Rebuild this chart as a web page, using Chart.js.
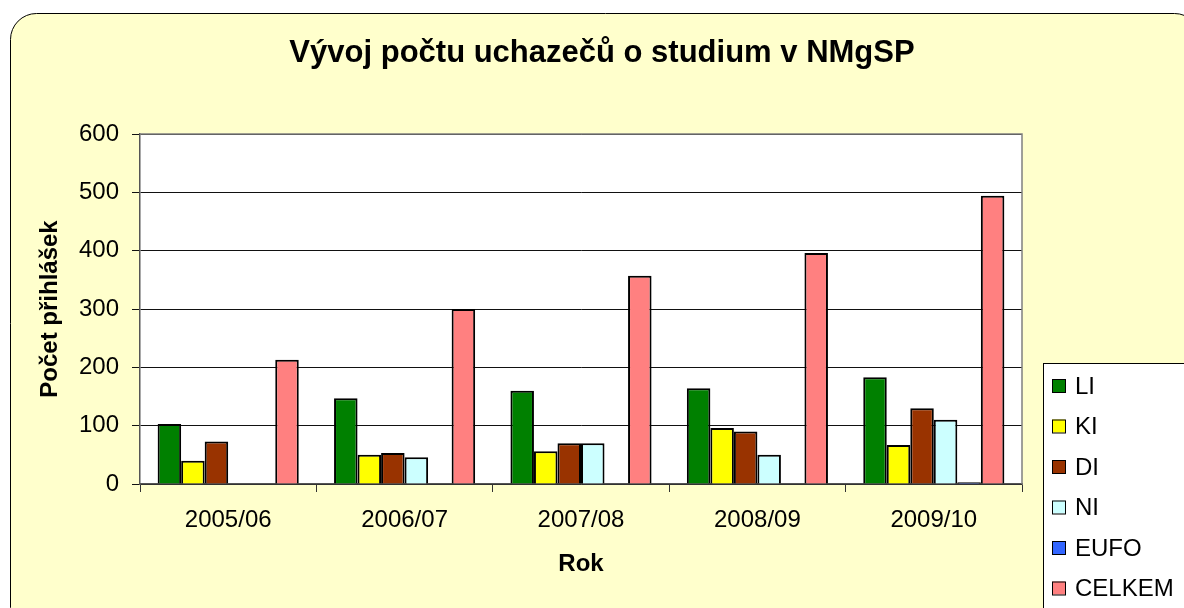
<!DOCTYPE html>
<html>
<head>
<meta charset="utf-8">
<script src="https://cdn.jsdelivr.net/npm/chart.js@4"></script>
<style>
  html, body { margin: 0; padding: 0; background: #fff; }
  #wrap { width: 1184px; height: 608px; }
</style>
</head>
<body>
<div id="wrap"><canvas id="chart" width="1184" height="608"></canvas></div>
<script>
const roky = ['2005/06', '2006/07', '2007/08', '2008/09', '2009/10'];
const LI = [103, 147, 160, 164, 183];
const KI = [40, 50, 56, 96, 67];
const DI = [73, 53, 70, 90, 130];
const NI = [0, 46, 70, 50, 110];
const EUFO = [0, 0, 0, 0, 3];
const CELKEM = [213, 300, 357, 396, 494];
const nadpis = 'Vývoj počtu uchazečů o studium v NMgSP';
const pismo = '"Liberation Sans", Arial, sans-serif';

// pozadí, rámeček, nadpis a legenda
const ramecek = {
  id: 'ramecek',
  beforeDraw(chart) {
    const c = chart.ctx;
    c.save();
    c.fillStyle = '#fff';
    c.fillRect(0, 0, chart.width, chart.height);
    c.beginPath();
    c.roundRect(10.5, 13.5, 1190, 620, 26);
    c.fillStyle = '#FFFFCC';
    c.fill();
    c.strokeStyle = '#000';
    c.lineWidth = 1;
    c.stroke();
    const a = chart.chartArea;
    c.fillStyle = '#fff';
    c.fillRect(a.left, a.top, a.right - a.left, a.bottom - a.top);
    c.restore();
  },
  afterDraw(chart) {
    const c = chart.ctx;
    const a = chart.chartArea;
    c.save();
    c.strokeStyle = '#808080';
    c.lineWidth = 1.5;
    c.beginPath();
    c.moveTo(a.left, a.top);
    c.lineTo(a.right, a.top);
    c.lineTo(a.right, a.bottom);
    c.stroke();

    c.fillStyle = '#000';
    c.font = 'bold 31px ' + pismo;
    c.textAlign = 'center';
    c.textBaseline = 'middle';
    c.fillText(nadpis, 602, 53);

    // legenda
    c.fillStyle = '#fff';
    c.fillRect(1043, 363, 160, 260);
    c.strokeStyle = '#000';
    c.lineWidth = 1;
    c.strokeRect(1043.5, 363.5, 160, 260);
    c.font = '24px ' + pismo;
    c.textAlign = 'left';
    chart.data.datasets.forEach((ds, i) => {
      const y = 386 + i * 40.5;
      c.fillStyle = ds.backgroundColor;
      c.fillRect(1052, y - 7, 13, 13);
      c.strokeRect(1052.5, y - 6.5, 13, 13);
      c.fillStyle = '#000';
      c.fillText(ds.label, 1075, y + 1);
    });
    c.restore();
  }
};

const ctx = document.getElementById('chart').getContext('2d');
const sada = (label, data, barva) => ({
  label: label,
  data: data,
  backgroundColor: barva,
  borderColor: '#000',
  borderWidth: 2,
  borderSkipped: 'bottom',
  categoryPercentage: 0.8,
  barPercentage: 1.0
});

new Chart(ctx, {
  type: 'bar',
  data: {
    labels: roky,
    datasets: [
      sada('LI', LI, '#008000'),
      sada('KI', KI, '#FFFF00'),
      sada('DI', DI, '#993300'),
      sada('NI', NI, '#CCFFFF'),
      sada('EUFO', EUFO, '#3366FF'),
      sada('CELKEM', CELKEM, '#FF8080')
    ]
  },
  options: {
    responsive: false,
    animation: false,
    layout: { padding: { left: 30, top: 134, right: 162, bottom: 0 } },
    plugins: {
      legend: { display: false },
      title: { display: false },
      tooltip: { enabled: false }
    },
    scales: {
      x: {
        afterFit: s => { s.height = 124; },
        grid: { drawOnChartArea: false, drawTicks: true, tickLength: 8, color: '#333', offset: true },
        border: { color: '#555', width: 1.5 },
        ticks: { color: '#000', padding: 14, font: { family: pismo, size: 24 } },
        title: {
          display: true, text: 'Rok', color: '#000',
          font: { family: pismo, size: 24, weight: 'bold' },
          padding: { top: 0, bottom: 29 }
        }
      },
      y: {
        min: 0, max: 600,
        afterFit: s => { s.width = 110; },
        grid: { color: '#111', lineWidth: 1, tickLength: 8 },
        border: { color: '#555', width: 1.5 },
        ticks: { stepSize: 100, color: '#000', padding: 13, font: { family: pismo, size: 24 } },
        title: {
          display: true, text: 'Počet přihlášek', color: '#000',
          font: { family: pismo, size: 24, weight: 'bold' },
          padding: { top: 6, bottom: 0 }
        }
      }
    }
  },
  plugins: [ramecek]
});
</script>
</body>
</html>
